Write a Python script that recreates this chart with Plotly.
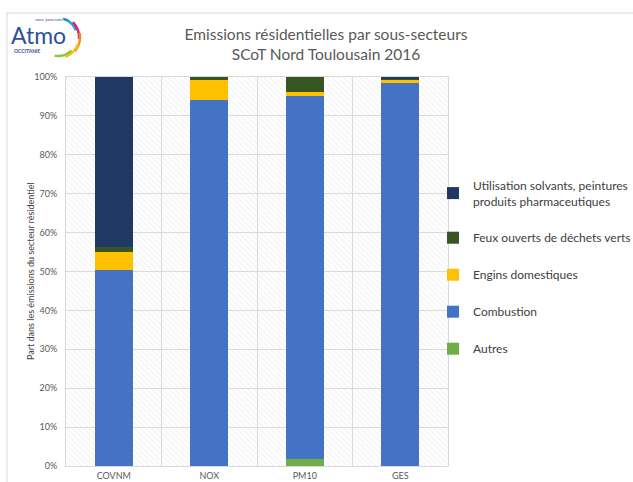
import numpy as np
import plotly.graph_objects as go

categories = ["COVNM", "NOX", "PM10", "GES"]
autres = [0.0, 0.0, 1.8, 0.0]
combustion = [50.5, 94.1, 93.4, 98.4]
engins = [4.5, 5.2, 1.0, 1.0]
feux = [1.3, 0.7, 3.8, 0.3]
solvants = [43.7, 0.0, 0.0, 0.3]

series = [
    ("Autres", autres, "#70AD47"),
    ("Combustion", combustion, "#4472C4"),
    ("Engins domestiques", engins, "#FFC000"),
    ("Feux ouverts de déchets verts", feux, "#375623"),
    ("Utilisation solvants, peintures<br>produits pharmaceutiques", solvants, "#203864"),
]

W, H = 633, 482
L, R, T, B = 66, 448, 77, 466

def px(x):
    return (x - L) / (R - L)

def py(y):
    return (B - y) / (B - T)

fig = go.Figure()

# hatched plot background
fig.add_trace(go.Bar(
    x=[0, 1, 2, 3], y=[100, 100, 100, 100], width=1,
    marker=dict(color="rgba(255,255,255,0)", line=dict(width=0),
                pattern=dict(shape="\\", fgcolor="#e2e2e2", size=4, solidity=0.25)),
    showlegend=False, hoverinfo="skip", xaxis="x", yaxis="y"))

n = len(series)
for i, (name, vals, col) in enumerate(series):
    fig.add_trace(go.Bar(
        x=categories, y=vals, name=name, marker=dict(color=col, line=dict(width=0)),
        xaxis="x2", yaxis="y2", legendgroup="g%d" % i, legendrank=n - i))

font_family = "Lato, 'Open Sans', sans-serif"

fig.update_layout(
    width=W, height=H,
    margin=dict(l=L, r=W - R, t=T, b=H - B, pad=0, autoexpand=False),
    paper_bgcolor="white", plot_bgcolor="white",
    barmode="stack", bargap=0.6,
    font=dict(family=font_family, color="#595959"),
    title=dict(text="Emissions résidentielles par sous-secteurs<br>SCoT Nord Toulousain 2016",
               x=326 / W, xanchor="center", y=1 - 40 / H, yanchor="top",
               font=dict(size=15.5, color="#595959", family=font_family)),
    xaxis=dict(range=[-0.5, 3.5], tickvals=[-0.5, 0.5, 1.5, 2.5, 3.5], showticklabels=False,
               showgrid=True, gridcolor="#d9d9d9", gridwidth=1, zeroline=False,
               showline=True, linecolor="#d9d9d9", mirror=True, ticks="", automargin=False),
    yaxis=dict(range=[0, 100], dtick=10, ticksuffix="%", showgrid=True, gridcolor="#d9d9d9",
               zeroline=False, showline=True, linecolor="#d9d9d9", mirror=True,
               tickfont=dict(size=9, color="#595959"), ticks="", ticklabelstandoff=6,
               automargin=False),
    xaxis2=dict(overlaying="x", type="category", range=[-0.5, 3.5], side="bottom",
                showgrid=False, zeroline=False, showline=False, ticks="", automargin=False,
                tickfont=dict(size=9, color="#595959"), ticklabelstandoff=3),
    yaxis2=dict(overlaying="y", range=[0, 100], visible=False),
    legend=dict(x=px(433), y=py(171), xanchor="left", yanchor="top",
                traceorder="grouped", tracegroupgap=18,
                font=dict(size=12, color="#404040", family=font_family),
                itemwidth=30, bgcolor="rgba(0,0,0,0)"),
)

fig.add_annotation(x=px(30), y=py(271), xref="paper", yref="paper",
                   text="Part dans les émissions du secteur résidentiel", textangle=-90,
                   showarrow=False, xanchor="center", yanchor="middle",
                   font=dict(size=9, color="#404040", family=font_family))

shapes = []
# outer frame
shapes.append(dict(type="rect", xref="paper", yref="paper", x0=px(7), x1=px(645), y0=py(13), y1=py(495),
                   line=dict(color="#d9d9d9", width=1), fillcolor="rgba(0,0,0,0)", layer="below"))

# logo arcs
def arc_path(cx, cy, r, a0, a1, n=24):
    ang = np.radians(np.linspace(a0, a1, n))
    xs = cx + r * np.cos(ang)
    ys = cy - r * np.sin(ang)
    pts = ["%s%.5f,%.5f" % ("M" if k == 0 else "L", px(x), py(y)) for k, (x, y) in enumerate(zip(xs, ys))]
    return " ".join(pts)

arcs = [
    (19, 75, 20, "#1fa6de"),
    (21, 45, -5, "#e3236b"),
    (22, 10, -40, "#f08a24"),
    (21, -20, -70, "#f5c31c"),
    (19, -45, -100, "#8cc63f"),
]
for r, a0, a1, c in arcs:
    shapes.append(dict(type="path", xref="paper", yref="paper", path=arc_path(58, 37, r, a0, a1),
                       line=dict(color=c, width=2.5), layer="above"))
fig.update_layout(shapes=shapes)

fig.add_annotation(x=px(38), y=py(35), xref="paper", yref="paper", text="Atmo", showarrow=False,
                   xanchor="center", yanchor="middle",
                   font=dict(size=23, color="#2f4f9d", family="Lato, sans-serif"))
fig.add_annotation(x=px(52), y=py(19), xref="paper", yref="paper", text="votre partenaire air",
                   xanchor="center", yanchor="middle",
                   showarrow=False, font=dict(size=4, color="#2f4f9d"))
fig.add_annotation(x=px(27), y=py(51), xref="paper", yref="paper", text="<b>OCCITANIE</b>",
                   xanchor="center", yanchor="middle",
                   showarrow=False, font=dict(size=5, color="#2f4f9d"))

fig.write_html("out.html")
